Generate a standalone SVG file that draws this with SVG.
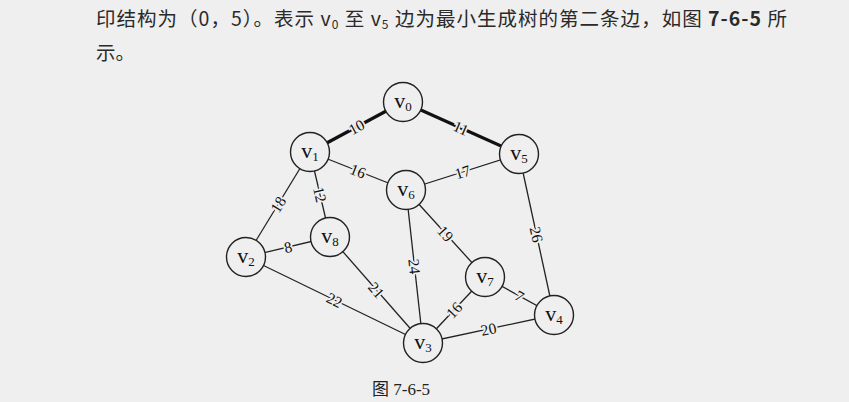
<svg xmlns="http://www.w3.org/2000/svg" width="849" height="402" viewBox="0 0 849 402">
<style>
.bg{fill:#efefef}
.para{font-family:"Noto Sans CJK SC","Noto Sans",sans-serif;font-size:19.5px;fill:#2a2a2a}
.b{font-weight:bold}
.e{stroke:#222;stroke-width:1.3;fill:none}
.t{stroke:#111;stroke-width:3.2;fill:none}
.n circle{fill:#efefef;stroke:#222;stroke-width:1.4}
.n text{font-family:"Liberation Serif","DejaVu Serif",serif;fill:#111;text-anchor:middle}
.v{font-size:22px}
.s{font-size:13px}
.w{font-family:"Liberation Serif","DejaVu Serif",serif;font-size:15.5px;fill:#111;text-anchor:middle;dominant-baseline:central;stroke:#efefef;stroke-width:3.5;paint-order:stroke}
.cap{font-family:"Liberation Serif","Noto Sans CJK SC",serif;font-size:17px;fill:#222}
</style>
<rect class="bg" width="849" height="402"/>
<text class="para" x="96" y="26" textLength="691" lengthAdjust="spacing">印结构为（0，5）。表示 <tspan>v</tspan><tspan font-size="12" dy="3">0</tspan><tspan dy="-3"> 至 </tspan><tspan>v</tspan><tspan font-size="12" dy="3">5</tspan><tspan dy="-3"> 边为最小生成树的第二条边，如图 </tspan><tspan class="b">7-6-5</tspan> 所</text>
<text class="para" x="96" y="60">示。</text>
<g id="connectors">
<line class="t" x1="310" y1="152" x2="403" y2="102"/>
<line class="t" x1="403" y1="102" x2="519" y2="154"/>
<line class="e" x1="310" y1="152" x2="406" y2="190"/>
<line class="e" x1="406" y1="190" x2="519" y2="154"/>
<line class="e" x1="310" y1="152" x2="246" y2="257"/>
<line class="e" x1="310" y1="152" x2="330" y2="237"/>
<line class="e" x1="246" y1="257" x2="330" y2="237"/>
<line class="e" x1="246" y1="257" x2="423" y2="343"/>
<line class="e" x1="330" y1="237" x2="423" y2="343"/>
<line class="e" x1="406" y1="190" x2="423" y2="343"/>
<line class="e" x1="406" y1="190" x2="485" y2="277"/>
<line class="e" x1="519" y1="154" x2="554" y2="315"/>
<line class="e" x1="485" y1="277" x2="554" y2="315"/>
<line class="e" x1="423" y1="343" x2="485" y2="277"/>
<line class="e" x1="423" y1="343" x2="554" y2="315"/>
<text class="w" x="356.5" y="127" transform="rotate(-28.3 356.5 127)">10</text>
<text class="w" x="461" y="128" transform="rotate(24.1 461 128)">11</text>
<text class="w" x="358" y="171" transform="rotate(21.6 358 171)">16</text>
<text class="w" x="462.5" y="172" transform="rotate(-17.7 462.5 172)">17</text>
<text class="w" x="278" y="204.5" transform="rotate(-58.6 278 204.5)">18</text>
<text class="w" x="320" y="194.5" transform="rotate(76.8 320 194.5)">12</text>
<text class="w" x="288" y="247" transform="rotate(-13.4 288 247)">8</text>
<text class="w" x="334.5" y="300" transform="rotate(25.9 334.5 300)">22</text>
<text class="w" x="376.5" y="290" transform="rotate(48.7 376.5 290)">21</text>
<text class="w" x="414.5" y="266.5" transform="rotate(83.7 414.5 266.5)">24</text>
<text class="w" x="445.5" y="233.5" transform="rotate(47.8 445.5 233.5)">19</text>
<text class="w" x="536.5" y="234.5" transform="rotate(77.7 536.5 234.5)">26</text>
<text class="w" x="519.5" y="296" transform="rotate(28.8 519.5 296)">7</text>
<text class="w" x="454" y="310" transform="rotate(-46.8 454 310)">16</text>
<text class="w" x="488.5" y="329" transform="rotate(-12.1 488.5 329)">20</text>
</g>
<g id="v0" class="n"><circle cx="403" cy="102" r="19.5"/><text x="403" y="108"><tspan class="v">v</tspan><tspan class="s" dy="3">0</tspan></text></g>
<g id="v1" class="n"><circle cx="310" cy="152" r="19.5"/><text x="310" y="158"><tspan class="v">v</tspan><tspan class="s" dy="3">1</tspan></text></g>
<g id="v5" class="n"><circle cx="519" cy="154" r="19.5"/><text x="519" y="160"><tspan class="v">v</tspan><tspan class="s" dy="3">5</tspan></text></g>
<g id="v6" class="n"><circle cx="406" cy="190" r="19.5"/><text x="406" y="196"><tspan class="v">v</tspan><tspan class="s" dy="3">6</tspan></text></g>
<g id="v8" class="n"><circle cx="330" cy="237" r="19.5"/><text x="330" y="243"><tspan class="v">v</tspan><tspan class="s" dy="3">8</tspan></text></g>
<g id="v2" class="n"><circle cx="246" cy="257" r="19.5"/><text x="246" y="263"><tspan class="v">v</tspan><tspan class="s" dy="3">2</tspan></text></g>
<g id="v7" class="n"><circle cx="485" cy="277" r="19.5"/><text x="485" y="283"><tspan class="v">v</tspan><tspan class="s" dy="3">7</tspan></text></g>
<g id="v4" class="n"><circle cx="554" cy="315" r="19.5"/><text x="554" y="321"><tspan class="v">v</tspan><tspan class="s" dy="3">4</tspan></text></g>
<g id="v3" class="n"><circle cx="423" cy="343" r="19.5"/><text x="423" y="349"><tspan class="v">v</tspan><tspan class="s" dy="3">3</tspan></text></g>
<text class="cap" x="372" y="395">图 7-6-5</text>
</svg>
